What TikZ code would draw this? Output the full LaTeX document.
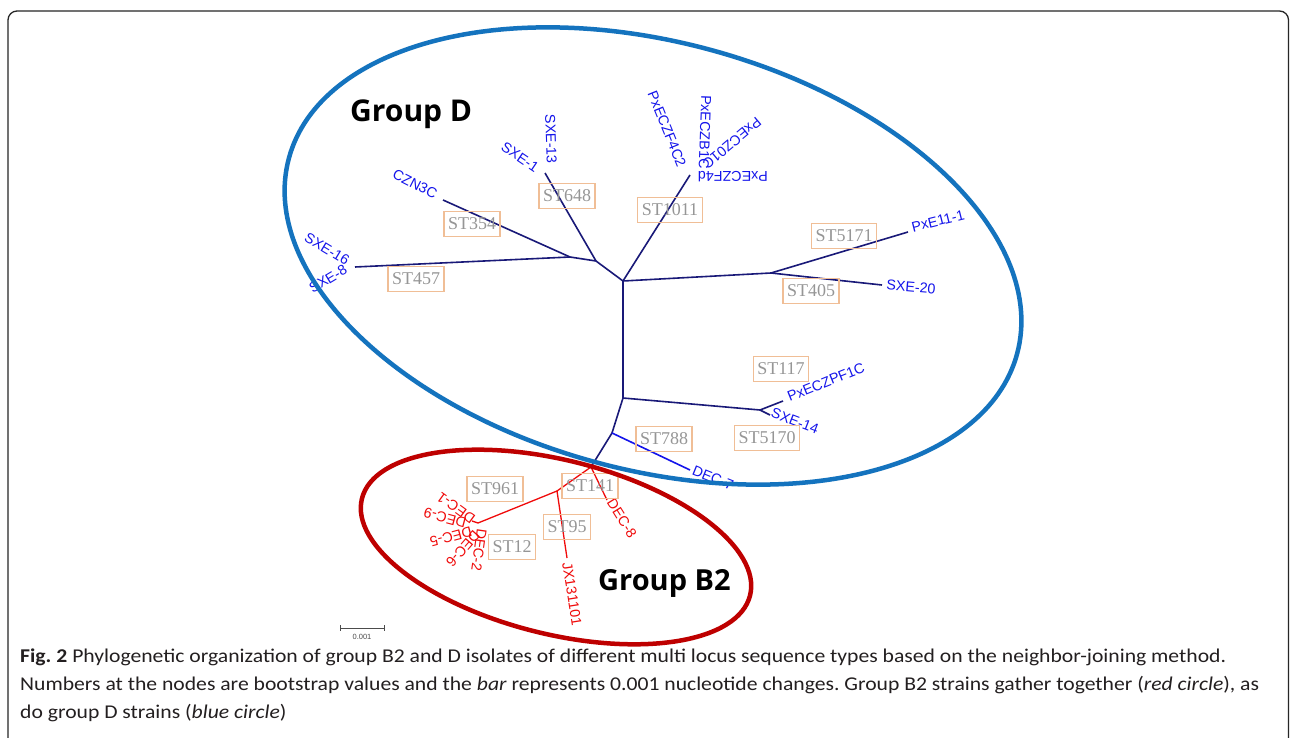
\documentclass[tikz,border=0pt]{standalone}
\usepackage{fontspec}
\setmainfont{Liberation Serif}
\newfontfamily\leaffont{Liberation Sans}
\newfontfamily\capfont[FakeStretch=1.11]{Carlito}
\newfontfamily\groupfont{Open Sans}
\definecolor{treeblue}{RGB}{25,25,120}
\definecolor{leafblue}{RGB}{20,20,235}
\definecolor{leafred}{RGB}{240,10,10}
\definecolor{ringblue}{RGB}{20,115,190}
\definecolor{ringred}{RGB}{190,0,0}
\definecolor{stline}{RGB}{240,190,150}
\definecolor{sttext}{RGB}{150,150,150}
\definecolor{captext}{RGB}{35,31,32}

\begin{document}
\frenchspacing
\begin{tikzpicture}[x=1pt,y=-1pt,
  leaf/.style={font=\leaffont\fontsize{14.3}{14.3}\selectfont,inner sep=0pt},
  bleaf/.style={leaf,text=leafblue},
  rleaf/.style={leaf,text=leafred},
  stbox/.style={draw=stline,line width=1.1pt,text=sttext,font=\fontsize{18}{18}\selectfont,inner xsep=4pt,inner ysep=6.5pt},
  branch/.style={line width=1.6pt,treeblue},
  rbranch/.style={line width=1.3pt,leafred},
  ring/.style={line width=4.5pt}]
\fill[white] (0,0) rectangle (1290,738);
\useasboundingbox (0,0) rectangle (1290,738);
\draw[line width=1.3pt,black!85,rounded corners=9pt] (8,760) -- (8,11) -- (1288.5,11) -- (1288.5,760);
%
% tree points
\coordinate (top) at (623,281);
\coordinate (mid) at (623,398);
\coordinate (low) at (612,433);
\coordinate (root) at (591,467);
\coordinate (up1) at (596,261);
\coordinate (up2) at (570,257);
\coordinate (rt1) at (771,273);
\coordinate (rt2) at (760,410);
\coordinate (sxe13) at (545,173);
\coordinate (pxecz) at (690,175);
\coordinate (czn3c) at (443,200);
\coordinate (sxe16) at (355,267);
\coordinate (pxe11) at (908,232);
\coordinate (sxe20) at (882,285);
\coordinate (pf1c) at (783,401);
\coordinate (sxe14) at (770,415);
\coordinate (dec7) at (690,470);
\coordinate (b2a) at (557,491);
\coordinate (b2b) at (478,523);
\coordinate (hook) at (472,521);
\coordinate (dec8) at (607,500);
\coordinate (jx) at (567,558);
%
\draw[branch] (sxe16) -- (up2) -- (up1) -- (top) -- (mid) -- (low) -- (root);
\draw[branch] (czn3c) -- (up2);
\draw[branch] (sxe13) -- (up1);
\draw[branch] (top) -- (pxecz);
\draw[branch] (top) -- (rt1) -- (pxe11);
\draw[branch] (rt1) -- (sxe20);
\draw[branch] (mid) -- (rt2) -- (pf1c);
\draw[branch] (rt2) -- (sxe14);
\draw[branch,leafblue] (low) -- (dec7);
\draw[rbranch] (root) -- (dec8);
\draw[rbranch] (root) -- (b2a) -- (jx);
\draw[rbranch] (b2a) -- (b2b) -- (hook);
%
% leaf names, group D
\node[bleaf,rotate=-34] (t-sxe1) at (520,157) {SXE-1};
\node[bleaf,rotate=-88] (t-sxe13) at (551,139) {SXE-13};
\node[bleaf,rotate=-68] (t-f4c2) at (667,129) {PxECZF4C2};
\node[bleaf,rotate=-92] (t-b1c) at (705,132) {PxECZB1C};
\node[bleaf,rotate=-140] (t-z01c) at (732,143) {PxECZ01C};
\node[bleaf,rotate=180] (t-f4d) at (733,177) {PxECZF4d};
\node[bleaf,rotate=-27] (t-czn) at (415,184) {CZN3C};
\node[bleaf,rotate=-31] (t-sxe16) at (327,249) {SXE-16};
\node[bleaf,rotate=31] (t-sxe8) at (328,279) {SXE-8};
\node[bleaf,rotate=14] (t-pxe11) at (938,221) {PxE11-1};
\node[bleaf,rotate=-5] (t-sxe20) at (911,287) {SXE-20};
\node[bleaf,rotate=22] (t-pf1c) at (826,382) {PxECZPF1C};
\node[bleaf,rotate=-21] (t-sxe14) at (795,421) {SXE-14};
\node[bleaf,rotate=-22] (t-dec7) at (713,478) {DEC-7};
%
% leaf names, group B2
\node[rleaf,rotate=-58] (t-dec8) at (622,518) {DEC-8};
\node[rleaf,rotate=-81] (t-jx) at (572,594) {JX131101};
\node[rleaf,rotate=144] (t-dec1) at (456,508) {DEC-1};
\node[rleaf,rotate=165] (t-dec9) at (445,518) {DEC-9};
\node[rleaf,rotate=-165] (t-dec5) at (451,537) {DEC-5};
\node[rleaf,rotate=-131] (t-dec6) at (463,549) {DEC-6};
\node[rleaf,rotate=-98] (t-dec2) at (479,550) {DEC-2};
%
% sequence types
\node[stbox] (st648) at (567,196) {ST648};
\node[stbox] (st1011) at (670,210) {ST1011};
\node[stbox] (st354) at (472,224) {ST354};
\node[stbox] (st457) at (416,279) {ST457};
\node[stbox] (st5171) at (844,236) {ST5171};
\node[stbox] (st405) at (811,291) {ST405};
\node[stbox] (st117) at (781,369) {ST117};
\node[stbox] (st788) at (664,439) {ST788};
\node[stbox] (st5170) at (767,438) {ST5170};
\node[stbox] (st141) at (590,486) {ST141};
\node[stbox] (st961) at (495,489) {ST961};
\node[stbox] (st95) at (567,527) {ST95};
\node[stbox] (st12) at (512,547) {ST12};
%
% circles round the groups
\draw[ring,ringblue,rotate around={-15:(653,256)}] (653,256) ellipse [x radius=377pt,y radius=214pt];
\draw[ring,ringred,rotate around={-14:(556,547)}] (556,547) ellipse [x radius=200pt,y radius=87pt];
\node[anchor=base west,inner sep=0pt,font=\groupfont\bfseries\fontsize{30}{30}\selectfont] (grp-d) at (350,122) {Group D};
\node[anchor=base west,inner sep=0pt,font=\groupfont\bfseries\fontsize{29}{29}\selectfont] (grp-b2) at (598,590) {Group B2};
%
% scale bar
\coordinate (bar0) at (340,628);
\coordinate (bar1) at (384,628);
\draw[line width=0.8pt,black!70] (bar0) -- (bar1);
\draw[line width=0.8pt,black!70] ([yshift=3pt]bar0) -- ([yshift=-3pt]bar0);
\draw[line width=0.8pt,black!70] ([yshift=3pt]bar1) -- ([yshift=-3pt]bar1);
\node[font=\leaffont\fontsize{7.5}{7.5}\selectfont,text=black!70,inner sep=0pt] (bar-lbl) at (362,637) {0.001};
%
% caption
\node[anchor=base west,inner sep=0pt,text=captext,font=\capfont\fontsize{19.5}{19.5}\selectfont] (cap1) at (20,662) {\textbf{Fig. 2} Phylogenetic organization of group B2 and D isolates of different multi locus sequence types based on the neighbor-joining method.};
\node[anchor=base west,inner sep=0pt,text=captext,font=\capfont\fontsize{19.5}{19.5}\selectfont] (cap2) at (20,690) {Numbers at the nodes are bootstrap values and the \textit{bar} represents 0.001 nucleotide changes. Group B2 strains gather together (\textit{red circle}), as};
\node[anchor=base west,inner sep=0pt,text=captext,font=\capfont\fontsize{19.5}{19.5}\selectfont] (cap3) at (20,718) {do group D strains (\textit{blue circle})};
\end{tikzpicture}
\end{document}
